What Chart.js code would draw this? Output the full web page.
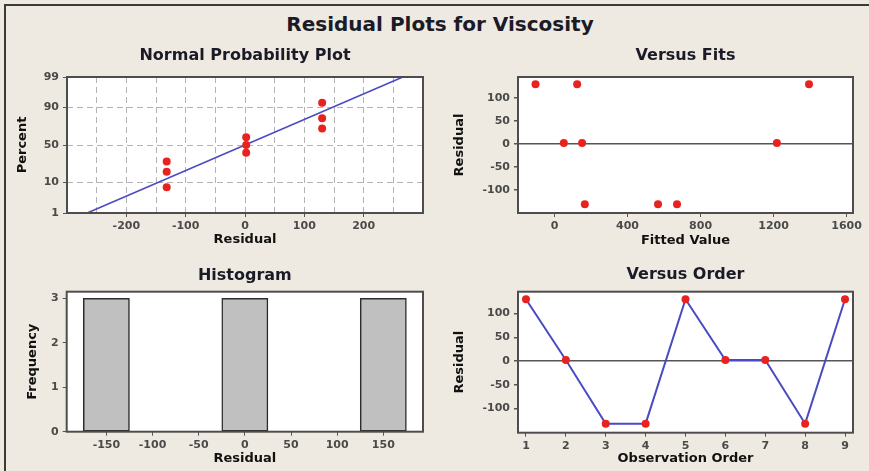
<!DOCTYPE html>
<html>
<head>
<meta charset="utf-8">
<script src="https://cdn.jsdelivr.net/npm/chart.js@4/dist/chart.umd.min.js"></script>
<style>
  html, body { margin: 0; padding: 0; }
  body { width: 869px; height: 471px; background: #efeae1; position: relative; overflow: hidden;
         font-family: 'DejaVu Sans', Verdana, sans-serif; }
  .frame { position: absolute; left: 4px; top: 4px; right: -10px; bottom: -10px;
           border-left: 2px solid #3a3a3a; border-top: 2px solid #3a3a3a; }
  .main-title { position: absolute; left: 0; width: 880px; top: 12px; text-align: center;
                font-size: 20px; font-weight: bold; color: #1b1b27; }
  canvas { position: absolute; }
</style>
</head>
<body>
<div class="frame"></div>
<div class="main-title">Residual Plots for Viscosity</div>
<canvas id="prob" width="430" height="210" style="left:0;top:40px"></canvas>
<canvas id="fits" width="439" height="210" style="left:430px;top:40px"></canvas>
<canvas id="hist" width="430" height="221" style="left:0;top:250px"></canvas>
<canvas id="order" width="439" height="221" style="left:430px;top:250px"></canvas>
<script>
// ── Data ───────────────────────────────────────────────────────────────
const probResiduals = [-132, -132, -132, 2, 2, 2, 130, 130, 130];
const probPercents  = [7.4, 18.1, 28.7, 39.4, 50, 60.6, 71.3, 81.9, 92.6];
const fitLineResidual = [-266, 266];
const fitLinePercent  = [1, 99];
const probXTicks = [-250, -200, -150, -100, -50, 0, 50, 100, 150, 200, 250];
const probYTicks = [1, 10, 50, 90, 99];

const fittedValues   = [-104, 51, 166, 567, 124, 151, 1218, 671, 1394];
const orderResiduals = [130, 2, -132, -132, 130, 2, 2, -132, 130];
const observationOrder = [1, 2, 3, 4, 5, 6, 7, 8, 9];
const fitXTicks = [0, 400, 800, 1200, 1600];
const residTicks = [-100, -50, 0, 50, 100];

const histBins   = [-150, -100, -50, 0, 50, 100, 150];
const histCounts = [3, 0, 0, 3, 0, 0, 3];
const histYTicks = [0, 1, 2, 3];

const FONT = "'DejaVu Sans', Verdana, sans-serif";
const TITLE_COLOR = '#1b1b27';
const TICK_COLOR = '#4a4a4a';
const RED = '#e8231f';
const BLUE = '#4a4ac4';

// ── Normal probability scale (percent axis, linear in z) ────────────────
function probit(p) {
  // Acklam's inverse normal approximation
  const a = [-39.69683028665376, 220.9460984245205, -275.9285104469687, 138.3577518672690, -30.66479806614716, 2.506628277459239];
  const b = [-54.47609879822406, 161.5858368580409, -155.6989798598866, 66.80131188771972, -13.28068155288572];
  const c = [-0.007784894002430293, -0.3223964580411365, -2.400758277161838, -2.549732539343734, 4.374664141464968, 2.938163982698783];
  const d = [0.007784695709041462, 0.3224671290700398, 2.445134137142996, 3.754408661907416];
  const pl = 0.02425;
  if (p < pl) {
    const q = Math.sqrt(-2 * Math.log(p));
    return (((((c[0]*q+c[1])*q+c[2])*q+c[3])*q+c[4])*q+c[5]) / ((((d[0]*q+d[1])*q+d[2])*q+d[3])*q+1);
  }
  if (p > 1 - pl) {
    const q = Math.sqrt(-2 * Math.log(1 - p));
    return -(((((c[0]*q+c[1])*q+c[2])*q+c[3])*q+c[4])*q+c[5]) / ((((d[0]*q+d[1])*q+d[2])*q+d[3])*q+1);
  }
  const q = p - 0.5, r = q * q;
  return (((((a[0]*r+a[1])*r+a[2])*r+a[3])*r+a[4])*r+a[5])*q / (((((b[0]*r+b[1])*r+b[2])*r+b[3])*r+b[4])*r+1);
}
function normCdf(z) {
  const t = 1 / (1 + 0.2316419 * Math.abs(z));
  const y = 0.3989423 * Math.exp(-z * z / 2) * t * (0.3193815 + t * (-0.3565638 + t * (1.781478 + t * (-1.821256 + t * 1.330274))));
  return z > 0 ? 1 - y : y;
}

class ProbabilityScale extends Chart.Scale {
  static id = 'probability';
  static defaults = {};
  determineDataLimits() {
    this.min = this.options.min;
    this.max = this.options.max;
  }
  buildTicks() {
    return probYTicks.map(v => ({ value: v }));
  }
  getLabelForValue(v) { return String(v); }
  configure() {
    super.configure();
    this._zStart = probit(this.min / 100);
    this._zRange = probit(this.max / 100) - this._zStart;
  }
  getPixelForValue(v) {
    return this.getPixelForDecimal((probit(v / 100) - this._zStart) / this._zRange);
  }
  getValueForPixel(px) {
    return 100 * normCdf(this._zStart + this.getDecimalForPixel(px) * this._zRange);
  }
}
Chart.register(ProbabilityScale);

// white plot area + dark box
const plotFrame = {
  id: 'plotFrame',
  beforeDraw(chart) {
    const { ctx, chartArea: a } = chart;
    ctx.save();
    ctx.fillStyle = '#ffffff';
    ctx.fillRect(a.left, a.top, a.right - a.left, a.bottom - a.top);
    ctx.restore();
  },
  afterDraw(chart) {
    const { ctx, chartArea: a } = chart;
    ctx.save();
    ctx.strokeStyle = '#4d4d4d';
    ctx.lineWidth = 2;
    ctx.strokeRect(a.left, a.top, a.right - a.left, a.bottom - a.top);
    ctx.restore();
  }
};

// ── Shared option builders ──────────────────────────────────────────────
function panelOptions(p) {
  return {
    responsive: false,
    animation: false,
    events: [],
    layout: { padding: { left: 0, right: p.right, top: 0, bottom: 0 } },
    plugins: {
      legend: { display: false },
      tooltip: { enabled: false },
      title: {
        display: true, text: p.title, color: TITLE_COLOR, fullSize: false,
        font: { family: FONT, size: 16, weight: 'bold' },
        padding: { top: p.titleTop, bottom: p.titleBottom }
      }
    },
    scales: { x: p.x, y: p.y }
  };
}

function axisTitle(text, pad) {
  return { display: true, text, color: '#111', font: { family: FONT, size: 13, weight: 'bold' }, padding: pad };
}
const tickFont = { family: FONT, size: 11, weight: 'bold' };
const plainLabel = v => String(v);

function xAxis(o) {
  return Object.assign({
    type: 'linear',
    offset: false,
    afterBuildTicks: s => { s.ticks = o.ticks.map(v => ({ value: v })); },
    afterFit: s => { s.height = o.height; },
    border: { display: false },
    grid: { offset: false, color: 'transparent', tickColor: '#555', tickLength: 4, lineWidth: 1 },
    ticks: { color: TICK_COLOR, font: tickFont, padding: 3, maxRotation: 0, autoSkip: false, callback: plainLabel },
    title: axisTitle(o.title, { top: 0, bottom: o.titleBottom })
  }, o.extra || {});
}
function yAxis(o) {
  return Object.assign({
    type: 'linear',
    afterBuildTicks: s => { s.ticks = o.ticks.map(v => ({ value: v })); },
    afterFit: s => { s.width = o.width; },
    border: { display: false },
    grid: { color: 'transparent', tickColor: '#555', tickLength: 4, lineWidth: 1 },
    ticks: { color: TICK_COLOR, font: tickFont, padding: 4, autoSkip: false, callback: plainLabel },
    title: axisTitle(o.title, { top: o.titleTop, bottom: 0 })
  }, o.extra || {});
}

// ── Normal Probability Plot ─────────────────────────────────────────────
new Chart(document.getElementById('prob'), {
  type: 'scatter',
  data: {
    datasets: [
      {
        data: probResiduals.map((r, i) => ({ x: r, y: probPercents[i] })),
        backgroundColor: RED, borderWidth: 0, pointRadius: 4
      },
      {
        data: fitLineResidual.map((r, i) => ({ x: r, y: fitLinePercent[i] })),
        showLine: true, borderColor: BLUE, borderWidth: 1.6, pointRadius: 0
      }
    ]
  },
  options: panelOptions({
    title: 'Normal Probability Plot', right: 7, titleTop: 6, titleBottom: 11.8,
    x: xAxis({
      ticks: probXTicks, height: 37, title: 'Residual', titleBottom: 2.2,
      extra: {
        min: -300, max: 300,
        border: { display: false, dash: [6, 4] },
        grid: {
          color: '#b4b4b4', lineWidth: 1, tickLength: 4,
          tickColor: c => (c.tick.value % 100 === 0 ? '#555' : 'transparent'),
          tickBorderDash: []
        },
        ticks: {
          color: TICK_COLOR, font: tickFont, padding: 3, maxRotation: 0, autoSkip: false,
          callback: v => (v % 100 === 0 ? String(v) : '')
        }
      }
    }),
    y: yAxis({
      ticks: probYTicks, width: 67, title: 'Percent', titleTop: 15.2,
      extra: {
        type: 'probability', min: 1, max: 99,
        border: { display: false, dash: [6, 4] },
        grid: {
          color: c => (c.tick.value === 1 || c.tick.value === 99 ? 'transparent' : '#b4b4b4'),
          tickColor: '#555', tickLength: 4, lineWidth: 1, tickBorderDash: []
        }
      }
    })
  }),
  plugins: [plotFrame]
});

// ── Versus Fits ─────────────────────────────────────────────────────────
const zeroLine = c => (c.tick.value === 0 ? '#555' : 'transparent');

new Chart(document.getElementById('fits'), {
  type: 'scatter',
  data: {
    datasets: [{
      data: fittedValues.map((f, i) => ({ x: f, y: orderResiduals[i] })),
      backgroundColor: RED, borderWidth: 0, pointRadius: 4
    }]
  },
  options: panelOptions({
    title: 'Versus Fits', right: 16, titleTop: 6, titleBottom: 11.8,
    x: xAxis({ ticks: fitXTicks, height: 37, title: 'Fitted Value', titleBottom: 1.5,
               extra: { min: -200, max: 1635 } }),
    y: yAxis({
      ticks: residTicks, width: 88, title: 'Residual', titleTop: 22.2,
      extra: { min: -151, max: 146,
               grid: { color: zeroLine, tickColor: '#555', tickLength: 4, lineWidth: 1.5 } }
    })
  }),
  plugins: [plotFrame]
});

// ── Histogram ───────────────────────────────────────────────────────────
new Chart(document.getElementById('hist'), {
  type: 'bar',
  data: {
    datasets: [{
      data: histBins.map((b, i) => ({ x: b, y: histCounts[i] })),
      backgroundColor: '#c0c0c0', borderColor: '#2c2c2c', borderWidth: 1.5,
      borderSkipped: false, barPercentage: 1, categoryPercentage: 1
    }]
  },
  options: panelOptions({
    title: 'Histogram', right: 7, titleTop: 16, titleBottom: 6.5,
    x: xAxis({ ticks: histBins, height: 39.3, title: 'Residual', titleBottom: 4.2,
               extra: { min: -193, max: 193 } }),
    y: yAxis({ ticks: histYTicks, width: 66.7, title: 'Frequency', titleTop: 25.2,
               extra: { min: 0, max: 3.15 } })
  }),
  plugins: [plotFrame]
});

// ── Versus Order ────────────────────────────────────────────────────────
new Chart(document.getElementById('order'), {
  type: 'line',
  data: {
    datasets: [{
      data: observationOrder.map((o, i) => ({ x: o, y: orderResiduals[i] })),
      borderColor: BLUE, borderWidth: 2, tension: 0,
      pointBackgroundColor: RED, pointBorderWidth: 0, pointRadius: 4
    }]
  },
  options: panelOptions({
    title: 'Versus Order', right: 16, titleTop: 15, titleBottom: 7.5,
    x: xAxis({ ticks: observationOrder, height: 38.3, title: 'Observation Order', titleBottom: 4.2,
               extra: { min: 0.8, max: 9.2 } }),
    y: yAxis({
      ticks: residTicks, width: 88, title: 'Residual', titleTop: 22.2,
      extra: { min: -151, max: 146,
               grid: { color: zeroLine, tickColor: '#555', tickLength: 4, lineWidth: 1.5 } }
    })
  }),
  plugins: [plotFrame]
});
</script>
</body>
</html>
